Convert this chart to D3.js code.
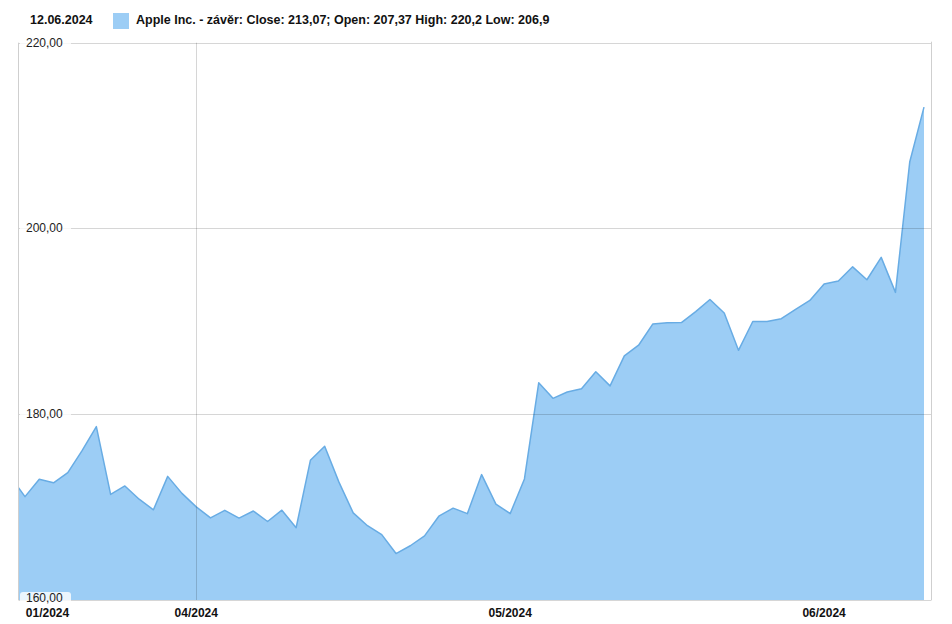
<!DOCTYPE html>
<html>
<head>
<meta charset="utf-8">
<script src="https://cdn.jsdelivr.net/npm/d3@7"></script>
<style>
  html, body { margin: 0; padding: 0; background: #fff; }
  svg { display: block; font-family: "Liberation Sans", Arial, sans-serif; }
</style>
</head>
<body>
<svg id="chart" width="952" height="624"></svg>
<script>
// ---- data ----
const dates = [
  "2024-03-12","2024-03-13","2024-03-14","2024-03-15","2024-03-18","2024-03-19","2024-03-20","2024-03-21","2024-03-22","2024-03-25","2024-03-26","2024-03-27","2024-03-28",
  "2024-04-01","2024-04-02","2024-04-03","2024-04-04","2024-04-05","2024-04-08","2024-04-09","2024-04-10","2024-04-11","2024-04-12","2024-04-15","2024-04-16","2024-04-17","2024-04-18","2024-04-19","2024-04-22","2024-04-23","2024-04-24","2024-04-25","2024-04-26","2024-04-29","2024-04-30",
  "2024-05-01","2024-05-02","2024-05-03","2024-05-06","2024-05-07","2024-05-08","2024-05-09","2024-05-10","2024-05-13","2024-05-14","2024-05-15","2024-05-16","2024-05-17","2024-05-20","2024-05-21","2024-05-22","2024-05-23","2024-05-24","2024-05-28","2024-05-29","2024-05-30","2024-05-31",
  "2024-06-03","2024-06-04","2024-06-05","2024-06-06","2024-06-07","2024-06-10","2024-06-11","2024-06-12"
];
const closes = [
  173.23,171.13,173.00,172.62,173.72,176.08,178.67,171.37,172.28,170.85,169.71,173.31,171.48,
  170.03,168.84,169.65,168.82,169.58,168.45,169.67,167.78,175.04,176.55,172.69,169.38,168.00,167.04,165.00,165.84,166.90,169.02,169.89,169.30,173.50,170.33,
  169.30,173.03,183.38,181.71,182.40,182.74,184.57,183.05,186.28,187.43,189.72,189.84,189.87,191.04,192.35,190.90,186.88,189.98,189.99,190.29,191.29,192.25,
  194.03,194.35,195.87,194.48,196.89,193.12,207.15,213.07
];
const yTicks = [160, 180, 200, 220];
const xTickLabels = ["01/2024", "04/2024", "05/2024", "06/2024"];
const xTickDates = ["2024-03-12", "2024-04-01", "2024-05-01", "2024-06-03"];
const xGridDates = ["2024-04-01"];
const legendDate = "12.06.2024";
const legendText = "Apple Inc. - závěr: Close: 213,07; Open: 207,37 High: 220,2 Low: 206,9";

// ---- layout ----
const plot = { left: 18.5, right: 931.5, top: 42.7, bottom: 600 };
const fillColor = "#9ccdf5";
const lineColor = "#68ace4";

const svg = d3.select("#chart");
const x = d3.scaleLinear().domain([1, dates.length - 1]).range([25, 924]);
const y = d3.scaleLinear().domain([160, 220]).range([plot.bottom, plot.top]);

const idx = d => dates.indexOf(d);

svg.append("clipPath").attr("id", "clip")
  .append("rect").attr("x", plot.left).attr("y", 0)
  .attr("width", plot.right - plot.left).attr("height", plot.bottom);

const data = closes.map((v, i) => ({ i, v }));

const g = svg.append("g").attr("clip-path", "url(#clip)");
g.append("path").datum(data)
  .attr("fill", fillColor)
  .attr("d", d3.area().x(d => x(d.i)).y0(y(160)).y1(d => y(d.v)));
g.append("path").datum(data)
  .attr("fill", "none").attr("stroke", lineColor).attr("stroke-width", 1.5)
  .attr("stroke-linejoin", "round")
  .attr("d", d3.line().x(d => x(d.i)).y(d => y(d.v)));

// gridlines (on top, translucent)
svg.append("g").selectAll("line").data(yTicks).join("line")
  .attr("x1", plot.left).attr("x2", plot.right)
  .attr("y1", d => Math.round(y(d)) + 0.5).attr("y2", d => Math.round(y(d)) + 0.5)
  .attr("stroke", "#000").attr("stroke-opacity", 0.16);
svg.append("g").selectAll("line").data(xGridDates).join("line")
  .attr("x1", d => Math.round(x(idx(d))) + 0.5).attr("x2", d => Math.round(x(idx(d))) + 0.5)
  .attr("y1", plot.top).attr("y2", plot.bottom)
  .attr("stroke", "#000").attr("stroke-opacity", 0.16);

// frame: left and right borders
svg.append("line").attr("x1", plot.left).attr("x2", plot.left)
  .attr("y1", plot.top).attr("y2", plot.bottom).attr("stroke", "#cfcfcf");
svg.append("line").attr("x1", plot.right).attr("x2", plot.right)
  .attr("y1", plot.top - 1).attr("y2", plot.bottom).attr("stroke", "#cfcfcf");

// y labels with boxes
const yl = svg.append("g");
yl.selectAll("rect").data(yTicks).join("rect")
  .attr("x", 20).attr("y", d => y(d) - 8).attr("width", 51).attr("height", 16)
  .attr("rx", 3).attr("fill", "#fff").attr("fill-opacity", 0.8);
yl.selectAll("text").data(yTicks).join("text")
  .attr("x", 26).attr("y", d => y(d) + (d === 160 ? 2 : 4))
  .attr("font-size", 12).attr("fill", "#222")
  .text(d => d3.format(".2f")(d).replace(".", ","));

// x labels
svg.append("g").selectAll("text").data(xTickLabels).join("text")
  .attr("x", (d, i) => Math.max(x(idx(xTickDates[i])), plot.left + 29))
  .attr("y", 617)
  .attr("text-anchor", "middle")
  .attr("font-size", 12).attr("font-weight", "bold").attr("fill", "#111")
  .text(d => d);

// legend
svg.append("text").attr("x", 30).attr("y", 24)
  .attr("font-size", 12.5).attr("font-weight", "bold").attr("fill", "#111")
  .text(legendDate);
svg.append("rect").attr("x", 113).attr("y", 13).attr("width", 16).attr("height", 16)
  .attr("fill", fillColor);
svg.append("text").attr("x", 136).attr("y", 24)
  .attr("font-size", 12.5).attr("font-weight", "bold").attr("fill", "#111")
  .text(legendText);
</script>
</body>
</html>
